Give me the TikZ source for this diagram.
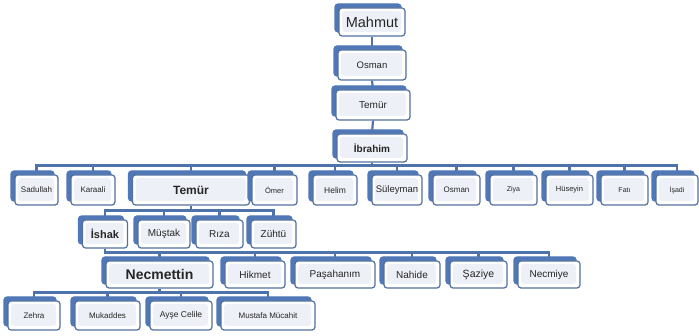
\documentclass[tikz,border=0pt]{standalone}
\usepackage{fontspec}
\setmainfont{Liberation Sans}
\usetikzlibrary{shadows,backgrounds}
\definecolor{boxblue}{RGB}{80,120,182}
\definecolor{boxedge}{RGB}{82,112,160}
\definecolor{linkblue}{RGB}{78,114,170}
\definecolor{innerfill}{RGB}{237,240,246}
\def\fsz#1{\fontsize{#1}{#1}\selectfont}
\tikzset{
	member/.style={draw=boxedge, line width=1.2pt, rounded corners=3pt, fill=white,
		inner sep=0pt, minimum height=28pt, text=black!85, font=\fsz{8pt},
		copy shadow={shadow xshift=-4pt, shadow yshift=4pt, fill=boxblue, draw=boxblue},
		path picture={\fill[innerfill] ([xshift=3pt,yshift=-3pt]path picture bounding box.north west)
			rectangle ([xshift=-4pt,yshift=4pt]path picture bounding box.south east);}},
	link/.style={draw=linkblue, line width=2.2pt},
}

\begin{document}
\begin{tikzpicture}[x=1pt, y=-1pt]
			%%%%% START %%%%%
			\useasboundingbox (0,0) rectangle (699,336);
			
			\node[member, minimum width=66pt, font=\fsz{14.5pt}] (mahmut) at (372, 22) {Mahmut};
			\node[member, minimum width=68pt, minimum height=30pt, font=\fsz{9.5pt}] (osmana) at (372, 65) {Osman};
			\node[member, minimum width=74pt, minimum height=30pt, font=\fsz{10pt}] (temura) at (373, 105) {Temür};
			\node[member, minimum width=70pt, font=\bfseries\fsz{10pt}] (ibrahim) at (372, 148) {İbrahim};
			
			\node[member, minimum width=43pt, minimum height=30pt] (sadullah) at (36.5, 190) {Sadullah};
			\node[member, minimum width=44pt, minimum height=30pt] (karaali) at (93, 190) {Karaali};
			\node[member, minimum width=117pt, minimum height=30pt, font=\bfseries\fsz{12pt}] (temurb) at (191, 190) {Temür};
			\node[member, minimum width=45pt, minimum height=30pt, font=\fsz{7.5pt}] (omer) at (274.5, 190) {Ömer};
			\node[member, minimum width=44pt, minimum height=30pt, font=\fsz{8.5pt}] (helim) at (335, 190) {Helim};
			\node[member, minimum width=50pt, minimum height=30pt, font=\fsz{9.5pt}] (suleyman) at (397, 190) {Süleyman};
			\node[member, minimum width=47pt, minimum height=30pt] (osmanb) at (456.5, 190) {Osman};
			\node[member, minimum width=47pt, minimum height=30pt, font=\fsz{7pt}] (ziya) at (513.5, 190) {Ziya};
			\node[member, minimum width=47pt, minimum height=30pt, font=\fsz{7.5pt}] (huseyin) at (569.5, 190) {Hüseyin};
			\node[member, minimum width=47pt, minimum height=30pt, font=\fsz{7pt}] (fati) at (624.5, 190) {Fatı};
			\node[member, minimum width=42pt, minimum height=30pt, font=\fsz{7pt}] (isadi) at (677, 190) {İşadi};
			
			\node[member, minimum width=45pt, font=\bfseries\fsz{11pt}] (ishak) at (105, 234) {İshak};
			\node[member, minimum width=52pt, font=\fsz{10pt}] (mustak) at (164, 234) {Müştak};
			\node[member, minimum width=47pt, font=\fsz{10pt}] (riza) at (219.5, 234) {Rıza};
			\node[member, minimum width=45pt, font=\fsz{10pt}] (zuhtu) at (273.5, 234) {Zühtü};
			
			\node[member, minimum width=107pt, minimum height=27pt, font=\bfseries\fsz{14pt}] (necmettin) at (159.5, 274.5) {Necmettin};
			\node[member, minimum width=60pt, minimum height=27pt, font=\fsz{10pt}] (hikmet) at (255, 274.5) {Hikmet};
			\node[member, minimum width=80pt, minimum height=27pt, font=\fsz{10pt}] (pasahanim) at (335, 274.5) {Paşahanım};
			\node[member, minimum width=56pt, minimum height=27pt, font=\fsz{10pt}] (nahide) at (412, 274.5) {Nahide};
			\node[member, minimum width=57pt, minimum height=27pt, font=\fsz{10.5pt}] (saziye) at (478.5, 274.5) {Şaziye};
			\node[member, minimum width=62pt, minimum height=27pt, font=\fsz{10pt}] (necmiye) at (549, 274.5) {Necmiye};
			
			\node[member, minimum width=52pt, minimum height=29pt] (zehra) at (34, 315.5) {Zehra};
			\node[member, minimum width=65pt, minimum height=29pt] (mukaddes) at (107.5, 315.5) {Mukaddes};
			\node[member, minimum width=62pt, minimum height=29pt, font=\fsz{8.5pt}] (ayse) at (181, 315.5) {Ayşe Celile};
			\node[member, minimum width=94pt, minimum height=29pt] (mustafa) at (268, 315.5) {Mustafa Mücahit};
			
			\begin{scope}[on background layer]
			\draw[link] (mahmut.south) -- (osmana.north);
			\draw[link] (osmana.south) -- (temura.north);
			\draw[link] (temura.south) -- (ibrahim.north);
			\foreach \c in {sadullah,karaali,temurb,omer,helim,suleyman,osmanb,ziya,huseyin,fati,isadi}
				\draw[link] (ibrahim.south) -- ++(0,3) -| (\c.north);
			\foreach \c in {ishak,mustak,riza,zuhtu}
				\draw[link] (temurb.south) -- ++(0,5) -| (\c.north);
			\foreach \c in {necmettin,hikmet,pasahanim,nahide,saziye,necmiye}
				\draw[link] (ishak.south) -- ++(0,4) -| (\c.north);
			\foreach \c in {zehra,mukaddes,ayse,mustafa}
				\draw[link] (necmettin.south) -- ++(0,4) -| (\c.north);
			\end{scope}
			
			%%%%% END %%%%%
		\end{tikzpicture}
\end{document}
